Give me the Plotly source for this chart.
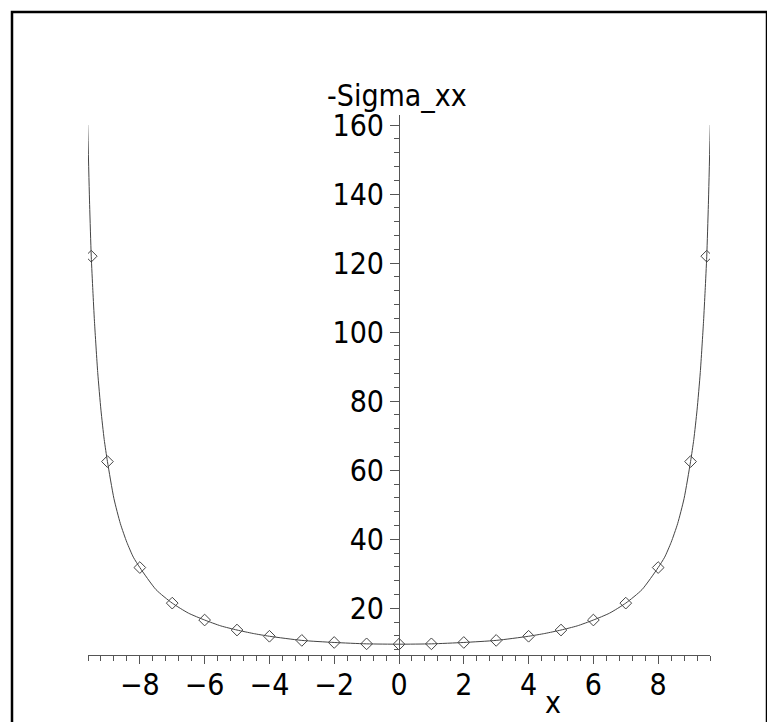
import plotly.graph_objects as go

# curve
curve_x = [-9.61, -9.55, -9.5, -9.45, -9.4, -9.3, -9.2, -9.1, -9.0, -8.8, -8.6, -8.4, -8.2, -8.0,
           -7.5, -7.0, -6.5, -6.0, -5.5, -5.0, -4.5, -4.0, -3.0, -2.0, -1.0, 0.0,
           1.0, 2.0, 3.0, 4.0, 4.5, 5.0, 5.5, 6.0, 6.5, 7.0, 7.5, 8.0, 8.2, 8.4, 8.6, 8.8,
           9.0, 9.1, 9.2, 9.3, 9.4, 9.45, 9.5, 9.55, 9.61]
curve_y = [160, 137, 122, 112, 103, 88.3, 77.4, 68.9, 62.5, 51.8, 44.5, 39.1, 34.8, 31.8,
           25.4, 21.5, 18.6, 16.6, 14.9, 13.7, 12.7, 11.9, 10.7, 10.1, 9.7, 9.6,
           9.7, 10.1, 10.7, 11.9, 12.7, 13.7, 14.9, 16.6, 18.6, 21.5, 25.4, 31.8, 34.8, 39.1, 44.5, 51.8,
           62.5, 68.9, 77.4, 88.3, 103, 112, 122, 137, 160]

# point markers
pts_x = [-9.5, -9, -8, -7, -6, -5, -4, -3, -2, -1, 0, 1, 2, 3, 4, 5, 6, 7, 8, 9, 9.5]
pts_y = [122, 62.5, 31.8, 21.5, 16.6, 13.7, 11.9, 10.7, 10.1, 9.7, 9.6, 9.7, 10.1, 10.7, 11.9,
         13.7, 16.6, 21.5, 31.8, 62.5, 122]

x_ticks = [-8, -6, -4, -2, 0, 2, 4, 6, 8]
y_ticks = [20, 40, 60, 80, 100, 120, 140, 160]

FONT = "Liberation Sans Narrow, Arial Narrow, DejaVu Sans Condensed, Liberation Sans, sans-serif"

fig = go.Figure()
fig.add_trace(go.Scatter(x=curve_x, y=curve_y, mode="lines",
                         line=dict(color="#444444", width=1, shape="spline", smoothing=0.6),
                         hoverinfo="skip", showlegend=False))
fig.add_trace(go.Scatter(x=pts_x, y=pts_y, mode="markers",
                         marker=dict(symbol="diamond-open", size=9, color="#444444",
                                     line=dict(width=1, color="#444444")),
                         showlegend=False))

# plot area: pixels 88..710 horizontally, 115..655 vertically (page has an 8px body margin)
fig.update_layout(
    width=775, height=722,
    margin=dict(l=80, r=73, t=107, b=75),
    paper_bgcolor="white", plot_bgcolor="white",
    font=dict(family=FONT, color="black", size=30),
    xaxis=dict(range=[-9.6, 9.6], tickvals=x_ticks, ticks="outside", ticklen=8, tickwidth=1,
               tickcolor="#555555", showline=True, linecolor="#555555", linewidth=1,
               showgrid=False, zeroline=False, tickfont=dict(size=30, family=FONT),
               ticklabelstandoff=-5,
               minor=dict(dtick=0.4, tick0=0, ticks="outside", ticklen=5, tickcolor="#555555",
                          showgrid=False)),
    yaxis=dict(range=[6.47, 162.9], tickvals=y_ticks, ticks="outside", ticklen=9, tickwidth=1,
               tickcolor="#555555", showline=True, linecolor="#555555", linewidth=1,
               showgrid=False, zeroline=False, anchor="free", position=0.5,
               tickfont=dict(size=30, family=FONT),
               minor=dict(dtick=4, tick0=0, ticks="outside", ticklen=5, tickcolor="#555555",
                          showgrid=False)),
    annotations=[
        dict(text="-Sigma_xx", xref="paper", yref="paper", x=0.497, y=(655 - 95) / 540,
             showarrow=False, font=dict(size=30, family=FONT), xanchor="center", yanchor="middle"),
        dict(text="x", xref="paper", yref="paper", x=(553 - 88) / 622, y=(655 - 702) / 540,
             showarrow=False, font=dict(size=30, family=FONT), xanchor="center", yanchor="middle"),
    ],
    shapes=[dict(type="rect", xref="paper", yref="paper",
                 x0=(12 - 88) / 622, x1=(767 - 88) / 622,
                 y0=(655 - 740) / 540, y1=(655 - 12) / 540,
                 line=dict(color="black", width=2.5), layer="above")],
)

fig.write_html("out.html")
